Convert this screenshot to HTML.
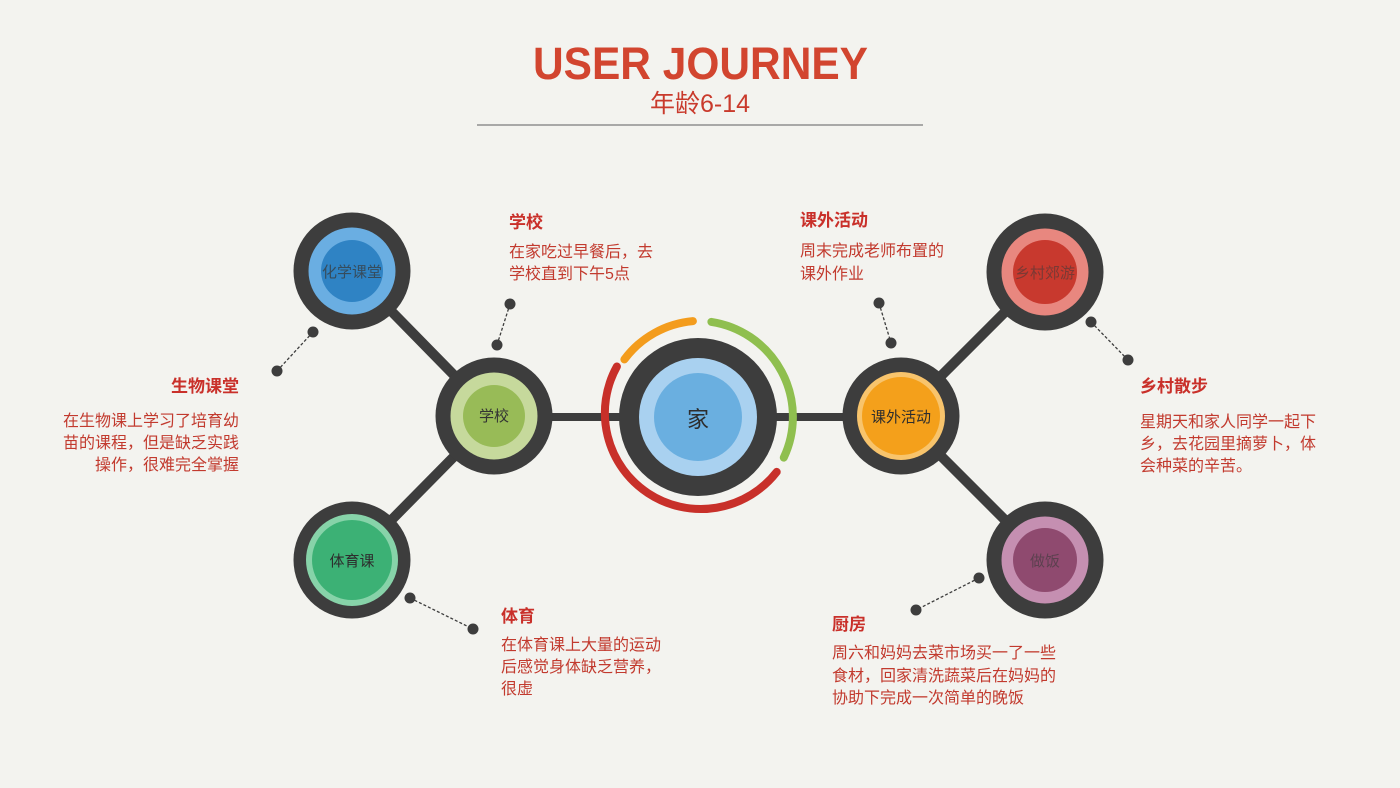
<!DOCTYPE html>
<html>
<head>
<meta charset="utf-8">
<style>
  html, body { margin: 0; padding: 0; background: #f3f3ef; }
  svg { display: block; }
  text { font-family: "Liberation Sans", "Noto Sans CJK SC", sans-serif; }
</style>
</head>
<body>
<svg width="1400" height="788" viewBox="0 0 1400 788" xmlns="http://www.w3.org/2000/svg">
  <rect x="0" y="0" width="1400" height="788" fill="#f3f3ef"/>

  <!-- Header -->
  <text x="533" y="79" font-size="45" font-weight="bold" fill="#d2452f" textLength="335" lengthAdjust="spacingAndGlyphs">USER JOURNEY</text>
  <text x="700" y="112" font-size="25" fill="#c93a2c" text-anchor="middle">年龄6-14</text>
  <line x1="477" y1="125" x2="923" y2="125" stroke="#8f8f8f" stroke-width="1.5"/>

  <!-- Connectors -->
  <g stroke="#3d3d3d" stroke-linecap="butt">
    <line x1="352" y1="271" x2="494" y2="416" stroke-width="10"/>
    <line x1="352" y1="560" x2="494" y2="416" stroke-width="10"/>
    <line x1="494" y1="417" x2="901" y2="417" stroke-width="8"/>
    <line x1="1045" y1="272" x2="901" y2="416" stroke-width="10"/>
    <line x1="1045" y1="560" x2="901" y2="416" stroke-width="10"/>
  </g>

  <!-- Callout dashed lines -->
  <g stroke="#3d3d3d" stroke-width="1.3" stroke-dasharray="3,2" fill="none">
    <line x1="313" y1="332" x2="277" y2="371"/>
    <line x1="510" y1="304" x2="497" y2="345"/>
    <line x1="879" y1="303" x2="891" y2="343"/>
    <line x1="1091" y1="322" x2="1128" y2="360"/>
    <line x1="410" y1="598" x2="473" y2="629"/>
    <line x1="979" y1="578" x2="916" y2="610"/>
  </g>
  <g fill="#3d3d3d">
    <circle cx="313" cy="332" r="5.5"/>
    <circle cx="277" cy="371" r="5.5"/>
    <circle cx="510" cy="304" r="5.5"/>
    <circle cx="497" cy="345" r="5.5"/>
    <circle cx="879" cy="303" r="5.5"/>
    <circle cx="891" cy="343" r="5.5"/>
    <circle cx="1091" cy="322" r="5.5"/>
    <circle cx="1128" cy="360" r="5.5"/>
    <circle cx="410" cy="598" r="5.5"/>
    <circle cx="473" cy="629" r="5.5"/>
    <circle cx="979" cy="578" r="5.5"/>
    <circle cx="916" cy="610" r="5.5"/>
  </g>

  <!-- Center arcs -->
  <g fill="none" stroke-width="8" stroke-linecap="round">
    <path d="M 624.4 359.4 A 96 96 0 0 1 692.9 321.1" stroke="#f39c1d"/>
    <path d="M 711.4 321.9 A 96 96 0 0 1 783.8 457.6" stroke="#8fbf4f"/>
    <path d="M 776.7 471.9 A 96 96 0 0 1 616.9 366.5" stroke="#c8302a"/>
  </g>

  <!-- Center node -->
  <circle cx="698" cy="417" r="79" fill="#3d3d3d"/>
  <circle cx="698" cy="417" r="59" fill="#a9d1f0"/>
  <circle cx="698" cy="417" r="44" fill="#6aafe0"/>
  <text x="698" y="427" font-size="22" fill="#2d2d2d" text-anchor="middle">家</text>

  <!-- 化学课堂 -->
  <circle cx="352" cy="271" r="58.5" fill="#3d3d3d"/>
  <circle cx="352" cy="271" r="43.5" fill="#6aaee2"/>
  <circle cx="352" cy="271" r="31" fill="#2f83c4"/>
  <text x="352" y="277" font-size="15" fill="#3a3a3a" fill-opacity="0.75" text-anchor="middle">化学课堂</text>

  <!-- 学校 -->
  <circle cx="494" cy="416" r="58.5" fill="#3d3d3d"/>
  <circle cx="494" cy="416" r="43.5" fill="#c6d99c"/>
  <circle cx="494" cy="416" r="31" fill="#98bb57"/>
  <text x="494" y="421" font-size="15" fill="#333" text-anchor="middle">学校</text>

  <!-- 体育课 -->
  <circle cx="352" cy="560" r="58.5" fill="#3d3d3d"/>
  <circle cx="352" cy="560" r="46" fill="#87d3a9"/>
  <circle cx="352" cy="560" r="40" fill="#3cb175"/>
  <text x="352" y="566" font-size="15" fill="#2d2d2d" text-anchor="middle">体育课</text>

  <!-- 课外活动 -->
  <circle cx="901" cy="416" r="58.5" fill="#3d3d3d"/>
  <circle cx="901" cy="416" r="44" fill="#f8c46c"/>
  <circle cx="901" cy="416" r="39" fill="#f4a01b"/>
  <text x="901" y="422" font-size="15" fill="#2d2d2d" text-anchor="middle">课外活动</text>

  <!-- 乡村郊游 -->
  <circle cx="1045" cy="272" r="58.5" fill="#3d3d3d"/>
  <circle cx="1045" cy="272" r="43.5" fill="#e8877f"/>
  <circle cx="1045" cy="272" r="32" fill="#c8392e"/>
  <text x="1045" y="278" font-size="15" fill="#3a3a3a" fill-opacity="0.55" text-anchor="middle">乡村郊游</text>

  <!-- 做饭 -->
  <circle cx="1045" cy="560" r="58.5" fill="#3d3d3d"/>
  <circle cx="1045" cy="560" r="43.5" fill="#c58fb1"/>
  <circle cx="1045" cy="560" r="32" fill="#8f4a6f"/>
  <text x="1045" y="566" font-size="15" fill="#3a3a3a" fill-opacity="0.6" text-anchor="middle">做饭</text>

  <!-- Callout text -->
  <g font-size="16" fill="#c23a2e">
    <!-- 学校 -->
    <text x="509" y="228" font-size="17" font-weight="bold" fill="#c9302a">学校</text>
    <text x="509" y="257">在家吃过早餐后，去</text>
    <text x="509" y="279">学校直到下午5点</text>

    <!-- 课外活动 -->
    <text x="800" y="226" font-size="17" font-weight="bold" fill="#c9302a">课外活动</text>
    <text x="800" y="256">周末完成老师布置的</text>
    <text x="800" y="279">课外作业</text>

    <!-- 生物课堂 -->
    <text x="239" y="392" font-size="17" font-weight="bold" fill="#c9302a" text-anchor="end">生物课堂</text>
    <text x="239" y="426" text-anchor="end">在生物课上学习了培育幼</text>
    <text x="239" y="448" text-anchor="end">苗的课程，但是缺乏实践</text>
    <text x="239" y="470" text-anchor="end">操作，很难完全掌握</text>

    <!-- 乡村散步 -->
    <text x="1140" y="392" font-size="17" font-weight="bold" fill="#c9302a">乡村散步</text>
    <text x="1140" y="427">星期天和家人同学一起下</text>
    <text x="1140" y="449">乡，去花园里摘萝卜，体</text>
    <text x="1140" y="471">会种菜的辛苦。</text>

    <!-- 体育 -->
    <text x="501" y="622" font-size="17" font-weight="bold" fill="#c9302a">体育</text>
    <text x="501" y="650">在体育课上大量的运动</text>
    <text x="501" y="672">后感觉身体缺乏营养，</text>
    <text x="501" y="694">很虚</text>

    <!-- 厨房 -->
    <text x="832" y="630" font-size="17" font-weight="bold" fill="#c9302a">厨房</text>
    <text x="832" y="658">周六和妈妈去菜市场买一了一些</text>
    <text x="832" y="681">食材，回家清洗蔬菜后在妈妈的</text>
    <text x="832" y="703">协助下完成一次简单的晚饭</text>
  </g>
</svg>
</body>
</html>
